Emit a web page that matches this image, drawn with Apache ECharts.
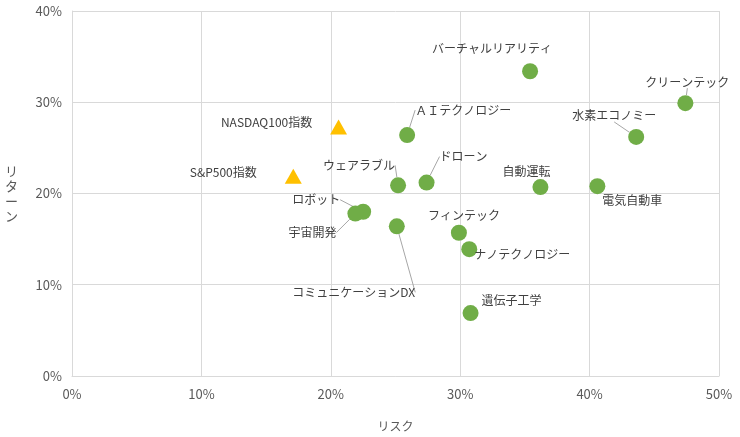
<!DOCTYPE html>
<html>
<head>
<meta charset="utf-8">
<script src="https://cdn.jsdelivr.net/npm/echarts@6/dist/echarts.min.js"></script>
<style>
  html, body { margin: 0; padding: 0; background: #fff; }
  #main { width: 740px; height: 437px; }
</style>
</head>
<body>
<div id="main"></div>
<script>
// テーマ名, リスク(%), リターン(%)
var themeNames = ['バーチャルリアリティ', 'クリーンテック', '水素エコノミー', 'ＡＩテクノロジー', 'ウェアラブル', 'ドローン',
    '自動運転', '電気自動車', 'ロボット', '宇宙開発', 'コミュニケーションDX', 'フィンテック', 'ナノテクノロジー', '遺伝子工学'];
var themeRisk = [35.4, 47.4, 43.6, 25.9, 25.2, 27.4, 36.2, 40.6, 22.5, 21.9, 25.1, 29.9, 30.7, 30.8];
var themeReturn = [33.4, 29.9, 26.2, 26.4, 20.9, 21.2, 20.7, 20.8, 18.0, 17.8, 16.4, 15.7, 13.9, 6.9];

// 指数
var indexNames = ['NASDAQ100指数', 'S&P500指数'];
var indexRisk = [20.6, 17.1];
var indexReturn = [27.3, 21.9];

// ラベル位置 (点からのずれ px) と引き出し線の有無
var themeLabelOffset = [[-38, -23], [2, -21], [-22, -21], [56, -25], [-39, -20], [37, -26],
    [-14, -16], [35, 14], [-47, -12], [-43, 19], [-43, 66], [5, -17], [53, 5], [41, -13]];
var themeLeader = [false, true, true, true, true, true, false, false, true, true, true, false, false, false];
var indexLabelOffset = [[-72, -4], [-70, -4]];

var font = '"Noto Sans CJK JP", "Noto Sans", sans-serif';

var chart = echarts.init(document.getElementById('main'));

var themeData = [];
for (var i = 0; i < themeNames.length; i++) {
    themeData.push({
        name: themeNames[i],
        value: [themeRisk[i], themeReturn[i]],
        labelLine: { show: themeLeader[i] }
    });
}
var indexData = [];
for (var j = 0; j < indexNames.length; j++) {
    indexData.push({ name: indexNames[j], value: [indexRisk[j], indexReturn[j]] });
}

var labelStyle = {
    show: true,
    position: 'inside',
    formatter: '{b}',
    color: '#404040',
    fontSize: 12,
    fontFamily: font
};

var option = {
    animation: false,
    grid: { left: 72, right: 21, top: 11, bottom: 57 },
    xAxis: {
        type: 'value', min: 0, max: 50, interval: 10,
        name: 'リスク', nameLocation: 'middle', nameGap: 44,
        nameTextStyle: { color: '#595959', fontSize: 12, fontFamily: font },
        axisLine: { show: true, lineStyle: { color: '#d9d9d9' } },
        axisTick: { show: false },
        axisLabel: { formatter: '{value}%', color: '#595959', fontSize: 13, fontFamily: font, margin: 12 },
        splitLine: { lineStyle: { color: '#d9d9d9' } }
    },
    yAxis: {
        type: 'value', min: 0, max: 40, interval: 10,
        name: 'リ\nタ\nー\nン', nameLocation: 'middle', nameGap: 54, nameRotate: 0,
        nameTextStyle: { color: '#595959', fontSize: 13, fontFamily: font, lineHeight: 15 },
        axisLine: { show: true, lineStyle: { color: '#d9d9d9' } },
        axisTick: { show: false },
        axisLabel: { formatter: '{value}%', color: '#595959', fontSize: 13, fontFamily: font, margin: 10 },
        splitLine: { lineStyle: { color: '#d9d9d9' } }
    },
    series: [
        {
            type: 'scatter',
            symbol: 'circle',
            symbolSize: 16,
            itemStyle: { color: '#70AD47', opacity: 1 },
            label: labelStyle,
            labelLine: { show: true, lineStyle: { color: '#a6a6a6', width: 1 } },
            labelLayout: function (p) {
                var o = themeLabelOffset[p.dataIndex];
                return { dx: o[0], dy: o[1] };
            },
            data: themeData
        },
        {
            type: 'scatter',
            symbol: 'triangle',
            symbolSize: [17, 15],
            itemStyle: { color: '#FFC000', opacity: 1 },
            label: labelStyle,
            labelLayout: function (p) {
                var o = indexLabelOffset[p.dataIndex];
                return { dx: o[0], dy: o[1] };
            },
            data: indexData
        }
    ]
};

chart.setOption(option);
</script>
</body>
</html>
